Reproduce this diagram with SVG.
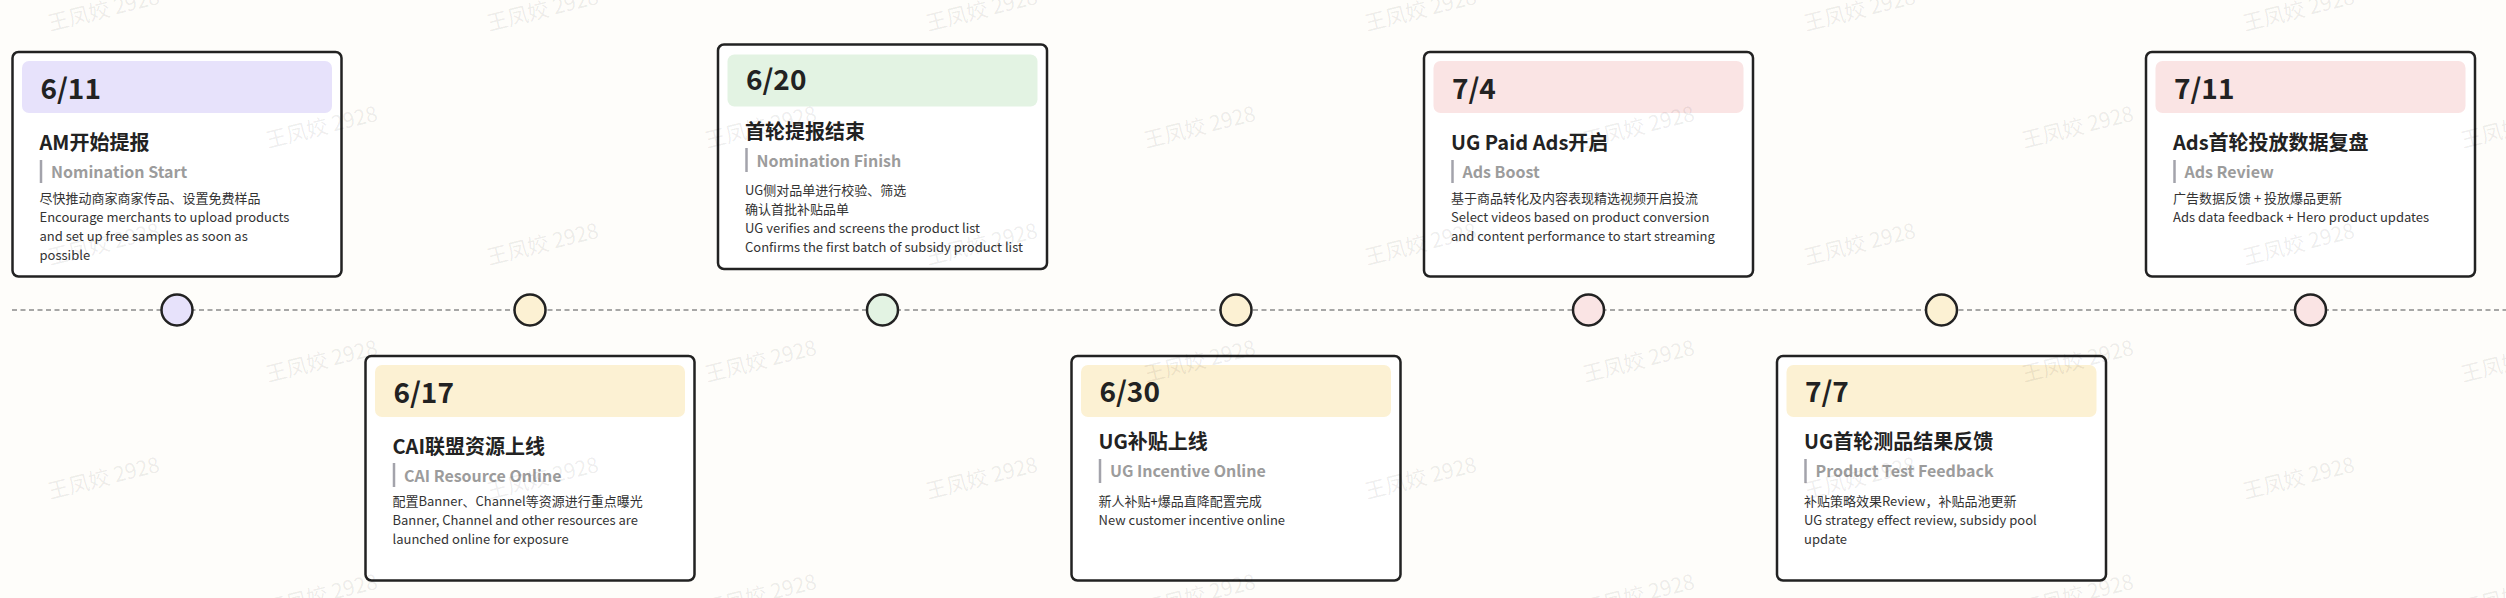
<svg xmlns="http://www.w3.org/2000/svg" width="2506" height="598" viewBox="0 0 2506 598">
<defs>
<style>
.card{fill:#ffffff;stroke:#222222;stroke-width:2.5}
.hd{stroke:none}
.date{font-family:"Noto Sans CJK SC","Noto Sans",sans-serif;font-size:28px;font-weight:700;fill:#222222}
.title{font-family:"Noto Sans CJK SC","Noto Sans",sans-serif;font-size:20px;font-weight:700;fill:#222222}
.sub{font-family:"Noto Sans CJK SC","Noto Sans",sans-serif;font-size:16px;font-weight:600;fill:#9c9c9c}
.bar{stroke:#a3a3ab;stroke-width:2.5}
.body{font-family:"Noto Sans CJK SC","Noto Sans",sans-serif;font-size:13px;font-weight:400;fill:#333333}
.dot{stroke:#222222;stroke-width:2.5}
.lav{fill:#e7e2fb}
.grn{fill:#e3f3e3}
.pnk{fill:#fae4e4}
.crm{fill:#fcf1d3}
.wm{font-family:"Noto Sans CJK SC","Liberation Sans",sans-serif;font-size:21px;fill:#000000;fill-opacity:0.075}
</style>
</defs>
<rect x="0" y="0" width="2506" height="598" fill="#fefdfa"/>

<g id="connectors">
<line x1="12" y1="310" x2="2506" y2="310" stroke="#8a8a8a" stroke-width="1.6" stroke-dasharray="5 3.5"/>
</g>

<g id="n-0611">
<circle class="dot lav" cx="177" cy="310" r="15.5"/>
<g transform="translate(12.5,52)">
<rect class="card" x="0" y="0" width="329" height="224.5" rx="6"/>
<rect class="hd lav" x="9.5" y="9" width="310" height="52" rx="7"/>
<text class="date" x="28" y="47">6/11</text>
<text class="title" x="27" y="98">AM开始提报</text>
<line class="bar" x1="28.5" y1="108" x2="28.5" y2="131"/>
<text class="sub" x="38.5" y="126">Nomination Start</text>
<text class="body" x="27" y="150.5">尽快推动商家商家传品、设置免费样品</text>
<text class="body" x="27" y="169.5">Encourage merchants to upload products</text>
<text class="body" x="27" y="188.5">and set up free samples as soon as</text>
<text class="body" x="27" y="207.5">possible</text>
</g>
</g>

<g id="n-0617">
<circle class="dot crm" cx="530" cy="310" r="15.5"/>
<g transform="translate(365.5,356)">
<rect class="card" x="0" y="0" width="329" height="224.5" rx="6"/>
<rect class="hd crm" x="9.5" y="9" width="310" height="52" rx="7"/>
<text class="date" x="28" y="47">6/17</text>
<text class="title" x="27" y="98">CAI联盟资源上线</text>
<line class="bar" x1="28.5" y1="107" x2="28.5" y2="131"/>
<text class="sub" x="38.5" y="126">CAI Resource Online</text>
<text class="body" x="27" y="150">配置Banner、Channel等资源进行重点曝光</text>
<text class="body" x="27" y="169">Banner, Channel and other resources are</text>
<text class="body" x="27" y="188">launched online for exposure</text>
</g>
</g>

<g id="n-0620">
<circle class="dot grn" cx="882.5" cy="310" r="15.5"/>
<g transform="translate(718,44.5)">
<rect class="card" x="0" y="0" width="329" height="224.5" rx="6"/>
<rect class="hd grn" x="9.5" y="10" width="310" height="52" rx="7"/>
<text class="date" x="28" y="45.5">6/20</text>
<text class="title" x="27" y="94.5">首轮提报结束</text>
<line class="bar" x1="28.5" y1="103.5" x2="28.5" y2="127.5"/>
<text class="sub" x="38.5" y="122">Nomination Finish</text>
<text class="body" x="27" y="150.5">UG侧对品单进行校验、筛选</text>
<text class="body" x="27" y="169.5">确认首批补贴品单</text>
<text class="body" x="27" y="188.5">UG verifies and screens the product list</text>
<text class="body" x="27" y="207.5">Confirms the first batch of subsidy product list</text>
</g>
</g>

<g id="n-0630">
<circle class="dot crm" cx="1236" cy="310" r="15.5"/>
<g transform="translate(1071.5,356)">
<rect class="card" x="0" y="0" width="329" height="224.5" rx="6"/>
<rect class="hd crm" x="9.5" y="9" width="310" height="52" rx="7"/>
<text class="date" x="28" y="46">6/30</text>
<text class="title" x="27" y="93">UG补贴上线</text>
<line class="bar" x1="28.5" y1="103" x2="28.5" y2="127"/>
<text class="sub" x="38.5" y="121">UG Incentive Online</text>
<text class="body" x="27" y="150">新人补贴+爆品直降配置完成</text>
<text class="body" x="27" y="169">New customer incentive online</text>
</g>
</g>

<g id="n-0704">
<circle class="dot pnk" cx="1588.5" cy="310" r="15.5"/>
<g transform="translate(1424,52)">
<rect class="card" x="0" y="0" width="329" height="224.5" rx="6"/>
<rect class="hd pnk" x="9.5" y="9" width="310" height="52" rx="7"/>
<text class="date" x="28" y="47">7/4</text>
<text class="title" x="27" y="98">UG Paid Ads开启</text>
<line class="bar" x1="28.5" y1="108" x2="28.5" y2="131"/>
<text class="sub" x="38.5" y="126">Ads Boost</text>
<text class="body" x="27" y="150.5">基于商品转化及内容表现精选视频开启投流</text>
<text class="body" x="27" y="169.5">Select videos based on product conversion</text>
<text class="body" x="27" y="188.5">and content performance to start streaming</text>
</g>
</g>

<g id="n-0707">
<circle class="dot crm" cx="1941.5" cy="310" r="15.5"/>
<g transform="translate(1777,356)">
<rect class="card" x="0" y="0" width="329" height="224.5" rx="6"/>
<rect class="hd crm" x="9.5" y="9" width="310" height="52" rx="7"/>
<text class="date" x="28" y="46">7/7</text>
<text class="title" x="27" y="93">UG首轮测品结果反馈</text>
<line class="bar" x1="28.5" y1="103" x2="28.5" y2="127"/>
<text class="sub" x="38.5" y="121">Product Test Feedback</text>
<text class="body" x="27" y="150">补贴策略效果Review，补贴品池更新</text>
<text class="body" x="27" y="169">UG strategy effect review, subsidy pool</text>
<text class="body" x="27" y="188">update</text>
</g>
</g>

<g id="n-0711">
<circle class="dot pnk" cx="2310.5" cy="310" r="15.5"/>
<g transform="translate(2146,52)">
<rect class="card" x="0" y="0" width="329" height="224.5" rx="6"/>
<rect class="hd pnk" x="9.5" y="9" width="310" height="52" rx="7"/>
<text class="date" x="28" y="47">7/11</text>
<text class="title" x="27" y="98">Ads首轮投放数据复盘</text>
<line class="bar" x1="28.5" y1="108" x2="28.5" y2="131"/>
<text class="sub" x="38.5" y="126">Ads Review</text>
<text class="body" x="27" y="150.5">广告数据反馈 + 投放爆品更新</text>
<text class="body" x="27" y="169.5">Ads data feedback + Hero product updates</text>
</g>
</g>

<g id="watermarks">
<text class="wm" transform="translate(50,31) rotate(-14)">王凤姣 2928</text>
<text class="wm" transform="translate(489,31) rotate(-14)">王凤姣 2928</text>
<text class="wm" transform="translate(928,31) rotate(-14)">王凤姣 2928</text>
<text class="wm" transform="translate(1367,31) rotate(-14)">王凤姣 2928</text>
<text class="wm" transform="translate(1806,31) rotate(-14)">王凤姣 2928</text>
<text class="wm" transform="translate(2245,31) rotate(-14)">王凤姣 2928</text>
<text class="wm" transform="translate(268,148) rotate(-14)">王凤姣 2928</text>
<text class="wm" transform="translate(707,148) rotate(-14)">王凤姣 2928</text>
<text class="wm" transform="translate(1146,148) rotate(-14)">王凤姣 2928</text>
<text class="wm" transform="translate(1585,148) rotate(-14)">王凤姣 2928</text>
<text class="wm" transform="translate(2024,148) rotate(-14)">王凤姣 2928</text>
<text class="wm" transform="translate(2463,148) rotate(-14)">王凤姣 2928</text>
<text class="wm" transform="translate(50,265) rotate(-14)">王凤姣 2928</text>
<text class="wm" transform="translate(489,265) rotate(-14)">王凤姣 2928</text>
<text class="wm" transform="translate(928,265) rotate(-14)">王凤姣 2928</text>
<text class="wm" transform="translate(1367,265) rotate(-14)">王凤姣 2928</text>
<text class="wm" transform="translate(1806,265) rotate(-14)">王凤姣 2928</text>
<text class="wm" transform="translate(2245,265) rotate(-14)">王凤姣 2928</text>
<text class="wm" transform="translate(268,382) rotate(-14)">王凤姣 2928</text>
<text class="wm" transform="translate(707,382) rotate(-14)">王凤姣 2928</text>
<text class="wm" transform="translate(1146,382) rotate(-14)">王凤姣 2928</text>
<text class="wm" transform="translate(1585,382) rotate(-14)">王凤姣 2928</text>
<text class="wm" transform="translate(2024,382) rotate(-14)">王凤姣 2928</text>
<text class="wm" transform="translate(2463,382) rotate(-14)">王凤姣 2928</text>
<text class="wm" transform="translate(50,499) rotate(-14)">王凤姣 2928</text>
<text class="wm" transform="translate(489,499) rotate(-14)">王凤姣 2928</text>
<text class="wm" transform="translate(928,499) rotate(-14)">王凤姣 2928</text>
<text class="wm" transform="translate(1367,499) rotate(-14)">王凤姣 2928</text>
<text class="wm" transform="translate(1806,499) rotate(-14)">王凤姣 2928</text>
<text class="wm" transform="translate(2245,499) rotate(-14)">王凤姣 2928</text>
<text class="wm" transform="translate(268,616) rotate(-14)">王凤姣 2928</text>
<text class="wm" transform="translate(707,616) rotate(-14)">王凤姣 2928</text>
<text class="wm" transform="translate(1146,616) rotate(-14)">王凤姣 2928</text>
<text class="wm" transform="translate(1585,616) rotate(-14)">王凤姣 2928</text>
<text class="wm" transform="translate(2024,616) rotate(-14)">王凤姣 2928</text>
<text class="wm" transform="translate(2463,616) rotate(-14)">王凤姣 2928</text>
</g>
</svg>
